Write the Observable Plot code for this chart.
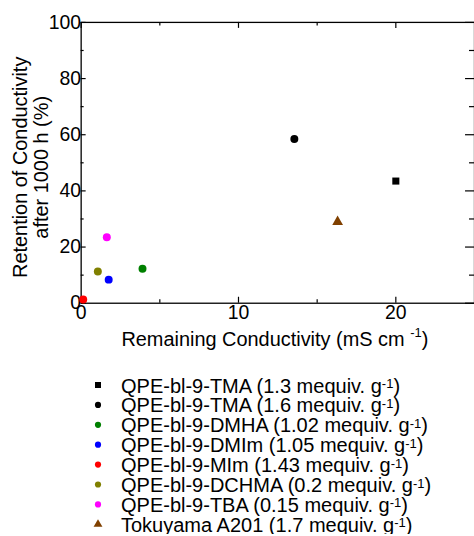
<!DOCTYPE html>
<html><head><meta charset="utf-8">
<script src="https://cdn.jsdelivr.net/npm/d3@7"></script>
<script src="https://cdn.jsdelivr.net/npm/@observablehq/plot@0.6"></script>
<style>
html,body{margin:0;padding:0;background:#fff;overflow:hidden;width:474px;height:536px;}
#chart svg{display:block;}
</style></head><body><div id="chart"></div>
<script>
// ---- data ----
const names = ["QPE-bl-9-TMA","QPE-bl-9-TMA","QPE-bl-9-DMHA","QPE-bl-9-DMIm","QPE-bl-9-MIm","QPE-bl-9-DCHMA","QPE-bl-9-TBA","Tokuyama A201"];
const capacity = ["1.3","1.6","1.02","1.05","1.43","0.2","0.15","1.7"];
const conductivity = [20.0, 13.55, 3.9, 1.75, 0.13, 1.06, 1.63, 16.3];
const retention = [43.5, 58.5, 12.3, 8.4, 1.3, 11.3, 23.5, 29.0];
const colors = ["#000000","#000000","#008000","#0000ff","#ff0000","#808000","#ff00ff","#804000"];
const symbols = ["square","circle","circle","circle","circle","circle","circle","triangle"];
const xMajor = [0, 10, 20];
const xMinor = [5, 15];
const yMajor = [0, 20, 40, 60, 80, 100];
const yMinor = [10, 30, 50, 70, 90];
const xTitle = "Remaining Conductivity (mS cm ";
const yTitle = ["Retention of Conductivity", "after 1000 h (%)"];

const rows = names.map((n, i) => ({name: n, cap: capacity[i], x: conductivity[i], y: retention[i], color: colors[i], symbol: symbols[i]}));

const FONT = "'Liberation Sans', Arial, sans-serif";
const W = 476, H = 360, mL = 81, mR = 0, mT = 22, mB = 56;
const pw = W - mL - mR, ph = H - mT - mB;

const dotsFor = (s) => Plot.dot(rows.filter(d => d.symbol === s), {x: "x", y: "y", fill: "color", symbol: s, r: 4, stroke: null});

const chart = Plot.plot({
  width: W, height: H, marginLeft: mL, marginRight: mR, marginTop: mT, marginBottom: mB,
  style: {fontFamily: FONT, fontSize: "19.5px", color: "#000", background: "#fff", overflow: "visible"},
  x: {domain: [0, 25], ticks: xMajor, tickSize: 0, tickPadding: 2, label: null},
  y: {domain: [0, 100], ticks: yMajor, tickSize: 0, tickPadding: 0, label: null},
  color: {type: "identity"},
  marks: [
    Plot.frame({stroke: "#000", strokeWidth: 1.3}),
    Plot.tickX(xMajor, {x: d => d, insetTop: ph - 6, stroke: "#000", strokeWidth: 1.2}),
    Plot.tickX(xMinor, {x: d => d, insetTop: ph - 3.5, stroke: "#000", strokeWidth: 1.2}),
    Plot.tickX(xMajor, {x: d => d, insetBottom: ph - 6, stroke: "#000", strokeWidth: 1.2}),
    Plot.tickX(xMinor, {x: d => d, insetBottom: ph - 3.5, stroke: "#000", strokeWidth: 1.2}),
    Plot.tickY(yMajor, {y: d => d, insetRight: pw - 5, stroke: "#000", strokeWidth: 1.2}),
    Plot.tickY(yMinor, {y: d => d, insetRight: pw - 3, stroke: "#000", strokeWidth: 1.2}),
    Plot.tickY(yMajor, {y: d => d, insetLeft: pw - 9, stroke: "#000", strokeWidth: 1.2}),
    Plot.tickY(yMinor, {y: d => d, insetLeft: pw - 5, stroke: "#000", strokeWidth: 1.2}),
    dotsFor("circle"),
    dotsFor("square"),
    dotsFor("triangle")
  ]
});
document.getElementById("chart").appendChild(chart);

// axis titles
const svg = d3.select(chart);
const xt = svg.append("text")
  .attr("x", 276).attr("y", 347)
  .attr("text-anchor", "middle")
  .attr("font-family", FONT).attr("font-size", 20).attr("fill", "#000");
xt.append("tspan").text(xTitle);
xt.append("tspan").attr("font-size", 13).attr("dy", -9).text("-1");
xt.append("tspan").attr("dy", 9).text(")");

const cy = 168;
yTitle.forEach((t, i) => {
  svg.append("text")
    .attr("transform", `translate(${27 + i * 21},${cy}) rotate(-90)`)
    .attr("text-anchor", "middle")
    .attr("font-family", FONT).attr("font-size", 20).attr("fill", "#000")
    .text(t);
});

// legend
const LH = 176;
const leg = d3.select("#chart").append("svg")
  .attr("width", 474).attr("height", LH).style("display", "block")
  .attr("font-family", FONT).attr("font-size", 20);
rows.forEach((d, i) => {
  const cyy = 27 + 19.9 * i;
  const sym = d.symbol === "square" ? d3.symbolSquare : d.symbol === "triangle" ? d3.symbolTriangle : d3.symbolCircle;
  const size = d.symbol === "triangle" ? 34 : d.symbol === "square" ? 36 : 30;
  leg.append("path")
    .attr("transform", `translate(98,${cyy})`)
    .attr("d", d3.symbol(sym, size)())
    .attr("fill", d.color);
  const t = leg.append("text").attr("x", 121).attr("y", cyy + 7.5).attr("fill", "#000");
  t.append("tspan").text(`${d.name} (${d.cap} mequiv. g`);
  t.append("tspan").attr("font-size", 13).attr("dy", -4.5).text("-1");
  t.append("tspan").attr("dy", 4.5).text(")");
});
</script>
</body></html>
